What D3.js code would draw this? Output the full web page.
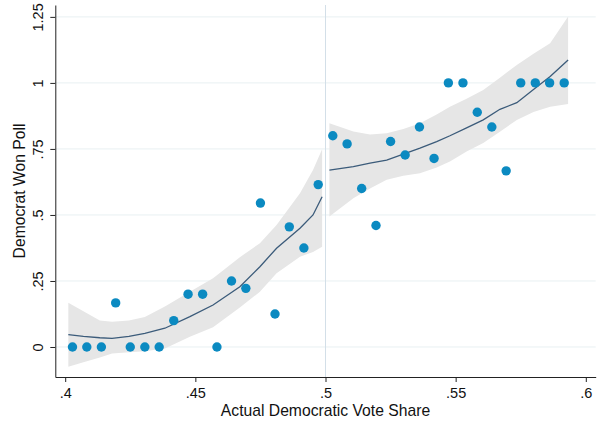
<!DOCTYPE html>
<html>
<head>
<meta charset="utf-8">
<script src="https://cdn.jsdelivr.net/npm/d3@7"></script>
<style>
  body { margin: 0; background: #fff; }
  text { font-family: "Liberation Sans", Arial, sans-serif; fill: #111; }
</style>
</head>
<body>
<div id="chart"></div>
<script>
// binned means, left and right of the .5 cutoff
const leftBinX = [0.4028, 0.4083, 0.4139, 0.4194, 0.4250, 0.4306, 0.4361, 0.4417, 0.4472,
                  0.4528, 0.4583, 0.4639, 0.4694, 0.4750, 0.4806, 0.4861, 0.4917, 0.4972]
const leftBinY = [0, 0, 0, 0.167, 0, 0, 0, 0.1, 0.2,
                  0.2, 0, 0.25, 0.222, 0.545, 0.125, 0.455, 0.375, 0.615]
const rightBinX = [0.5028, 0.5083, 0.5139, 0.5194, 0.5250, 0.5306, 0.5361, 0.5417, 0.5472,
                   0.5528, 0.5583, 0.5639, 0.5694, 0.5750, 0.5806, 0.5861, 0.5917]
const rightBinY = [0.8, 0.769, 0.6, 0.46, 0.778, 0.727, 0.833, 0.714, 1,
                   1, 0.889, 0.833, 0.667, 1, 1, 1, 1]

// local polynomial fit with confidence band
const leftFitX  = [0.4012, 0.4070, 0.4133, 0.4180, 0.4245, 0.4306, 0.4383, 0.4479, 0.4568,
                   0.4671, 0.4748, 0.4812, 0.4902, 0.4952, 0.4987]
const leftFit   = [0.047, 0.040, 0.035, 0.033, 0.040, 0.052, 0.071, 0.115, 0.159,
                   0.228, 0.304, 0.374, 0.450, 0.500, 0.569]
const leftLo    = [-0.075, -0.058, -0.040, -0.025, -0.020, -0.016, -0.006, 0.039, 0.075,
                   0.150, 0.209, 0.279, 0.342, 0.360, 0.380]
const leftHi    = [0.168, 0.135, 0.100, 0.096, 0.100, 0.114, 0.153, 0.209, 0.260,
                   0.340, 0.393, 0.462, 0.582, 0.670, 0.749]

const rightFitX = [0.5015, 0.5107, 0.5171, 0.5235, 0.5299, 0.5363, 0.5427, 0.5478, 0.5542,
                   0.5606, 0.5670, 0.5735, 0.5799, 0.5863, 0.5932]
const rightFit  = [0.670, 0.683, 0.696, 0.708, 0.730, 0.753, 0.778, 0.800, 0.830,
                   0.860, 0.900, 0.925, 0.975, 1.024, 1.087]
const rightLo   = [0.494, 0.563, 0.600, 0.633, 0.648, 0.658, 0.680, 0.702, 0.740,
                   0.772, 0.815, 0.860, 0.890, 0.910, 0.920]
const rightHi   = [0.847, 0.816, 0.805, 0.809, 0.825, 0.847, 0.880, 0.910, 0.940,
                   0.973, 1.020, 1.068, 1.110, 1.150, 1.251]

const xTicks = [0.4, 0.45, 0.5, 0.55, 0.6]
const xTickLabels = ['.4', '.45', '.5', '.55', '.6']
const yTicks = [0, 0.25, 0.5, 0.75, 1, 1.25]
const yTickLabels = ['0', '.25', '.5', '.75', '1', '1.25']
const cutoff = 0.5

const dms = { width: 600, height: 422 }
const plot = { left: 55.3, right: 595.7, top: 5, bottom: 377 }
const fontFamily = '"Liberation Sans", Arial, sans-serif'

const svg = d3.select('#chart').append('svg')
    .attr('width', dms.width)
    .attr('height', dms.height)

const xScale = d3.scaleLinear()
    .domain([0.3962, 0.6038])
    .range([plot.left, plot.right])

const yScale = d3.scaleLinear()
    .domain([-0.1136, 1.295])
    .range([plot.bottom, plot.top])

// grid lines
svg.append('g')
    .selectAll('line')
    .data(yTicks)
    .join('line')
    .attr('x1', plot.left)
    .attr('x2', plot.right)
    .attr('y1', d => yScale(d))
    .attr('y2', d => yScale(d))
    .attr('stroke', '#e8f0f2')
    .attr('stroke-width', 1)

// cutoff line
svg.append('line')
    .attr('x1', xScale(cutoff))
    .attr('x2', xScale(cutoff))
    .attr('y1', plot.top)
    .attr('y2', plot.bottom)
    .attr('stroke', '#d3dfe8')
    .attr('stroke-width', 1)

const zipFit = (xs, f, lo, hi) => xs.map((x, i) => ({ x, f: f[i], lo: lo[i], hi: hi[i] }))
const sides = [
    zipFit(leftFitX, leftFit, leftLo, leftHi),
    zipFit(rightFitX, rightFit, rightLo, rightHi)
]

const areaGen = d3.area()
    .x(d => xScale(d.x))
    .y0(d => yScale(d.lo))
    .y1(d => yScale(d.hi))

const lineGen = d3.line()
    .x(d => xScale(d.x))
    .y(d => yScale(d.f))

svg.append('g')
    .selectAll('path')
    .data(sides)
    .join('path')
    .attr('d', areaGen)
    .attr('fill', '#e6e6e6')

svg.append('g')
    .selectAll('path')
    .data(sides)
    .join('path')
    .attr('d', lineGen)
    .attr('fill', 'none')
    .attr('stroke', '#3b5b7a')
    .attr('stroke-width', 1.3)

const bins = leftBinX.map((x, i) => ({ x, y: leftBinY[i] }))
    .concat(rightBinX.map((x, i) => ({ x, y: rightBinY[i] })))

svg.append('g')
    .selectAll('circle')
    .data(bins)
    .join('circle')
    .attr('cx', d => xScale(d.x))
    .attr('cy', d => yScale(d.y))
    .attr('r', 4.7)
    .attr('fill', '#0b8ac1')

// axes
const xAxis = svg.append('g')
    .attr('transform', `translate(0,${plot.bottom})`)
    .call(d3.axisBottom(xScale)
        .tickValues(xTicks)
        .tickFormat((d, i) => xTickLabels[i])
        .tickSize(5)
        .tickSizeOuter(0))
xAxis.select('.domain').attr('stroke', '#222')
xAxis.selectAll('.tick line').attr('stroke', '#222')
xAxis.selectAll('.tick text')
    .attr('font-size', 14.5)
    .attr('font-family', fontFamily)
    .attr('fill', '#111')
    .attr('y', 21)
    .attr('dy', null)

const yAxis = svg.append('g')
    .attr('transform', `translate(${plot.left},0)`)
    .call(d3.axisLeft(yScale)
        .tickValues(yTicks)
        .tickFormat((d, i) => yTickLabels[i])
        .tickSize(5)
        .tickSizeOuter(0))
yAxis.select('.domain').attr('stroke', '#222')
yAxis.selectAll('.tick line').attr('stroke', '#222')
yAxis.selectAll('.tick text')
    .attr('font-size', 14.5)
    .attr('font-family', fontFamily)
    .attr('fill', '#111')
    .attr('x', null)
    .attr('dy', null)
    .attr('text-anchor', 'middle')
    .attr('transform', 'translate(-12.8,0) rotate(-90)')

svg.append('text')
    .attr('x', (xScale(0.4) + xScale(0.6)) / 2)
    .attr('y', 416)
    .attr('text-anchor', 'middle')
    .attr('font-size', 15.7)
    .text('Actual Democratic Vote Share')

svg.append('text')
    .attr('transform', `translate(25,${(plot.top + plot.bottom) / 2}) rotate(-90)`)
    .attr('text-anchor', 'middle')
    .attr('font-size', 15.7)
    .text('Democrat Won Poll')
</script>
</body>
</html>
